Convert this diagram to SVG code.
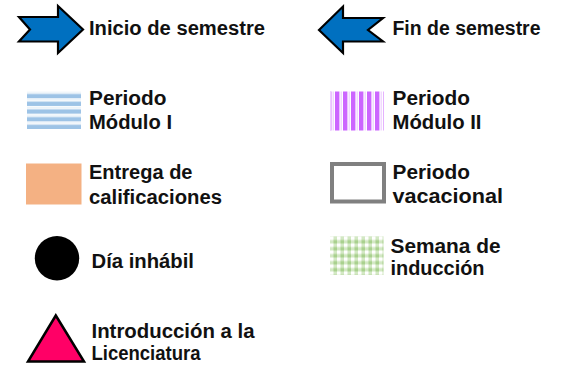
<svg xmlns="http://www.w3.org/2000/svg" width="562" height="368" viewBox="0 0 562 368">
  <style>
    .lbl { font-family: "Liberation Sans", Arial, sans-serif; font-weight: bold; font-size: 20px; fill: #111111; }
    .arrow { fill: #0070C0; stroke: #000000; stroke-width: 2.2; stroke-linejoin: miter; }
  </style>
  <defs>
    <pattern id="hstripes" patternUnits="userSpaceOnUse" x="27" y="91.5" width="10" height="7.7">
      <rect x="0" y="0" width="10" height="7.7" fill="#FFFFFF"/>
      <rect x="0" y="0.3" width="10" height="1" fill="#E3EEF9"/>
      <rect x="0" y="2.4" width="10" height="4.4" fill="#9DC3E6"/>
    </pattern>
    <pattern id="vstripes" patternUnits="userSpaceOnUse" x="335" y="91.5" width="8" height="10">
      <rect x="0" y="0" width="8" height="10" fill="#FFFFFF"/>
      <rect x="0" y="0" width="4.4" height="10" fill="#CC66FF"/>
      <rect x="5.6" y="0" width="1.2" height="10" fill="#EED0FF"/>
    </pattern>
    <pattern id="checker" patternUnits="userSpaceOnUse" x="330" y="236.5" width="7" height="7">
      <rect x="0" y="0" width="7" height="7" fill="#D3E8C4"/>
      <rect x="0" y="0" width="3.5" height="3.5" fill="#FFFFFF"/>
      <rect x="3.5" y="3.5" width="3.5" height="3.5" fill="#A9D18E"/>
    </pattern>
  </defs>

  <g id="connectors"/>

  <g id="inicio-semestre">
    <path class="arrow" d="M19,17 L58,17 L58,6 L83,29.5 L58,53 L58,41.5 L19,41.5 L30,29.5 Z"/>
    <text class="lbl" x="89" y="34.5" textLength="176" lengthAdjust="spacingAndGlyphs">Inicio de semestre</text>
  </g>

  <g id="fin-semestre">
    <path class="arrow" d="M319,30 L343,6.5 L343,18 L383,18 L368,30 L383,41.5 L343,41.5 L343,53 Z"/>
    <text class="lbl" x="392.5" y="34.5" textLength="148" lengthAdjust="spacingAndGlyphs">Fin de semestre</text>
  </g>

  <g id="periodo-modulo-1">
    <rect x="27" y="91.5" width="54" height="37.5" fill="url(#hstripes)"/>
    <text class="lbl" x="89" y="104.5" textLength="77.5" lengthAdjust="spacingAndGlyphs">Periodo</text>
    <text class="lbl" x="89" y="128.5" textLength="83" lengthAdjust="spacingAndGlyphs">Módulo I</text>
  </g>

  <g id="periodo-modulo-2">
    <rect x="330.5" y="91.5" width="53" height="39" fill="url(#vstripes)"/>
    <rect x="330" y="91.5" width="1" height="39" fill="#EED0FF"/>
    <text class="lbl" x="392.5" y="104.5" textLength="77.5" lengthAdjust="spacingAndGlyphs">Periodo</text>
    <text class="lbl" x="392.5" y="128.5" textLength="89" lengthAdjust="spacingAndGlyphs">Módulo II</text>
  </g>

  <g id="entrega-calificaciones">
    <rect x="26" y="163.5" width="55.5" height="41" fill="#F4B183"/>
    <text class="lbl" x="89" y="179" textLength="103.5" lengthAdjust="spacingAndGlyphs">Entrega de</text>
    <text class="lbl" x="89" y="203.5" textLength="133" lengthAdjust="spacingAndGlyphs">calificaciones</text>
  </g>

  <g id="periodo-vacacional">
    <rect x="332" y="164" width="52" height="37.5" fill="#FFFFFF" stroke="#808080" stroke-width="4"/>
    <text class="lbl" x="392.5" y="178.5" textLength="77.5" lengthAdjust="spacingAndGlyphs">Periodo</text>
    <text class="lbl" x="392.5" y="202.5" textLength="110.5" lengthAdjust="spacingAndGlyphs">vacacional</text>
  </g>

  <g id="dia-inhabil">
    <circle cx="57" cy="258.3" r="22.2" fill="#000000"/>
    <text class="lbl" x="91.5" y="267.5" textLength="102.5" lengthAdjust="spacingAndGlyphs">Día inhábil</text>
  </g>

  <g id="semana-induccion">
    <rect x="330" y="236.5" width="53.5" height="38.5" fill="url(#checker)"/>
    <text class="lbl" x="390.5" y="252.5" textLength="110" lengthAdjust="spacingAndGlyphs">Semana de</text>
    <text class="lbl" x="390.5" y="274.5" textLength="94" lengthAdjust="spacingAndGlyphs">inducción</text>
  </g>

  <g id="introduccion-licenciatura">
    <path d="M55.8,315.5 L84,361.5 L28,361.5 Z" fill="#FF0066" stroke="#000000" stroke-width="2.5" stroke-linejoin="miter"/>
    <text class="lbl" x="91.5" y="337.5" textLength="163" lengthAdjust="spacingAndGlyphs">Introducción a la</text>
    <text class="lbl" x="91.5" y="360" textLength="109" lengthAdjust="spacingAndGlyphs">Licenciatura</text>
  </g>
</svg>
